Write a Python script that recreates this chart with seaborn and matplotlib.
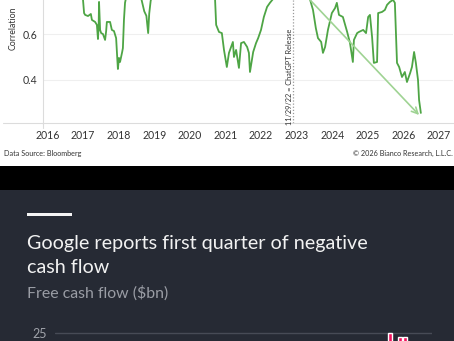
import matplotlib
matplotlib.use("Agg")
import matplotlib.pyplot as plt
import seaborn as sns
from matplotlib.patches import Rectangle
from matplotlib.lines import Line2D

# ---------------- data ----------------
years = [2016.00, 2016.50, 2016.97, 2017.00, 2017.03, 2017.06, 2017.14, 2017.22, 2017.25,
         2017.34, 2017.39, 2017.42, 2017.44, 2017.45, 2017.48, 2017.51, 2017.56, 2017.62,
         2017.65, 2017.67, 2017.76, 2017.81, 2017.87, 2017.93, 2017.96, 2017.98, 2018.01,
         2018.04, 2018.10, 2018.12, 2018.15, 2018.18, 2018.21, 2018.40, 2018.63, 2018.72,
         2018.78, 2018.83, 2018.86, 2018.90, 2018.95, 2019.50, 2020.20, 2020.68, 2020.71,
         2020.74, 2020.82, 2020.90, 2020.96, 2021.04, 2021.10, 2021.21, 2021.24, 2021.30,
         2021.38, 2021.44, 2021.52, 2021.61, 2021.66, 2021.69, 2021.78, 2021.86, 2021.92,
         2022.00, 2022.08, 2022.17, 2022.25, 2022.37, 2022.80, 2023.20, 2023.38, 2023.46,
         2023.54, 2023.60, 2023.69, 2023.74, 2023.80, 2023.88, 2023.99, 2024.08, 2024.13,
         2024.19, 2024.30, 2024.42, 2024.50, 2024.58, 2024.61, 2024.70, 2024.75, 2024.87,
         2024.95, 2025.01, 2025.06, 2025.12, 2025.17, 2025.26, 2025.29, 2025.40, 2025.48,
         2025.54, 2025.62, 2025.71, 2025.76, 2025.82, 2025.88, 2025.96, 2026.04, 2026.10,
         2026.19, 2026.24, 2026.30, 2026.35, 2026.41, 2026.44, 2026.49]
corr = [0.86, 0.83, 0.80, 0.750, 0.692, 0.684, 0.679, 0.688, 0.662,
        0.653, 0.640, 0.578, 0.640, 0.741, 0.618, 0.604, 0.600, 0.574,
        0.613, 0.653, 0.653, 0.618, 0.613, 0.582, 0.499, 0.446, 0.495,
        0.477, 0.521, 0.538, 0.662, 0.737, 0.760, 0.80, 0.76, 0.700,
        0.680, 0.604, 0.690, 0.745, 0.78, 0.84, 0.82, 0.78, 0.750,
        0.640, 0.609, 0.604, 0.530, 0.455, 0.517, 0.565, 0.499, 0.530,
        0.451, 0.560, 0.565, 0.543, 0.517, 0.433, 0.521, 0.560, 0.582,
        0.618, 0.675, 0.719, 0.737, 0.760, 0.82, 0.80, 0.750, 0.706,
        0.626, 0.582, 0.565, 0.517, 0.543, 0.618, 0.692, 0.714, 0.737,
        0.684, 0.675, 0.609, 0.560, 0.477, 0.574, 0.604, 0.609, 0.618,
        0.604, 0.675, 0.684, 0.587, 0.473, 0.477, 0.692, 0.697, 0.706,
        0.728, 0.741, 0.750, 0.737, 0.473, 0.455, 0.411, 0.433, 0.389,
        0.429, 0.455, 0.521, 0.473, 0.398, 0.310, 0.253]
year_ticks = list(range(2016, 2028))
corr_ticks = [0.4, 0.6]
chatgpt_release = 2022.91
trend_start = (2023.38, 0.7495)
trend_end = (2026.44, 0.244)

quarters = ["Q1 2024", "Q2 2024", "Q3 2024", "Q4 2024", "Q1 2025", "Q2 2025", "Q3 2025", "Q4 2025"]
fcf = [16.8, 13.5, 17.6, 24.8, 19.0, 23.8, 23.8, -5.0]
fcf_ticks = [25]

# ---------------- figure ----------------
sns.set_theme(style="white")
plt.rcParams['font.family'] = ['Lato', 'DejaVu Sans']

W, H = 454, 341
fig = plt.figure(figsize=(W / 100, H / 100), dpi=100)
fig.patch.set_facecolor("white")


def fx(px):
    return px / W


def fy(py):
    return 1 - py / H


panel = "#262a34"
fig.patches.append(Rectangle((0, fy(190)), 1, 24 / H, transform=fig.transFigure,
                             facecolor="black", edgecolor="none", zorder=-5))
fig.patches.append(Rectangle((0, 0), 1, fy(190), transform=fig.transFigure,
                             facecolor=panel, edgecolor="none", zorder=-5))

# ---- top chart ----
ax = fig.add_axes([fx(43), fy(123), fx(453) - fx(43), 123 / H])
ax.set_facecolor("white")
sns.lineplot(x=years, y=corr, ax=ax, color="#4ea545", linewidth=1.3)
ax.set_xlim(2015.876, 2027.393)
ax.set_ylim(0.2088, 0.7495)
ax.set_xticks(year_ticks)
ax.set_xticklabels([str(y) for y in year_ticks])
ax.get_xticklabels()[0].set_x(2016.15)
ax.yaxis.grid(True, color="#efefef", lw=0.8)
ax.xaxis.grid(False)
ax.set_yticks(corr_ticks)
ax.set_yticklabels([f"{v:.1f}" for v in corr_ticks])
for s in ["top", "right"]:
    ax.spines[s].set_visible(False)
for s in ["left", "bottom"]:
    ax.spines[s].set_color("#dcdcdc")
    ax.spines[s].set_linewidth(0.8)
ax.tick_params(axis="both", length=0, labelsize=7.6, colors="#333333")
ax.tick_params(axis="x", pad=5)
ax.tick_params(axis="y", pad=4)
ax.set_xlabel("")
ax.set_ylabel("")

ax.axvline(chatgpt_release, color="#9a9a9a", ls=(0, (1, 1.5)), lw=0.9)
ax.text(chatgpt_release - 0.11, 0.411, "11/29/22 = ChatGPT Release", rotation=90,
        ha="center", va="center", fontsize=5.3, color="#333333")
ax.annotate("", xy=trend_end, xytext=trend_start,
            arrowprops=dict(arrowstyle="->", color="#9fd393", lw=1.2,
                            mutation_scale=11, shrinkA=0, shrinkB=0))

fig.add_artist(Line2D([fx(3), fx(43)], [fy(123), fy(123)], transform=fig.transFigure,
                      color="#dcdcdc", lw=0.8))
fig.add_artist(Line2D([fx(43), fx(43)], [fy(123), fy(128)], transform=fig.transFigure,
                      color="#dcdcdc", lw=0.8))

fig.text(fx(13), fy(28), "Correlation", rotation=90, ha="center", va="center",
         fontsize=6.3, color="#333333")
fig.text(fx(4), fy(153), "Data Source: Bloomberg", ha="left", va="center",
         fontsize=5.2, color="#333333")
fig.text(fx(453), fy(153), "\u00a9 2026 Bianco Research, L.L.C.", ha="right", va="center",
         fontsize=5.2, color="#333333")

# ---- bottom (dark) section ----
fig.patches.append(Rectangle((fx(27), fy(216)), fx(45), 3 / H, transform=fig.transFigure,
                             facecolor="#f4f4f4", edgecolor="none"))
fig.text(fx(27), fy(249), "Google reports first quarter of negative", ha="left",
         va="baseline", fontsize=14.2, color="#f2f2f2")
fig.text(fx(27), fy(273), "cash flow", ha="left", va="baseline", fontsize=14.2,
         color="#f2f2f2")
fig.text(fx(27), fy(297.5), "Free cash flow ($bn)", ha="left", va="baseline",
         fontsize=11.4, color="#9a9da5")

ax2 = fig.add_axes([fx(55), fy(472.5), fx(432) - fx(55), 160 / H])
ax2.set_facecolor("none")
sns.barplot(x=quarters, y=fcf, color="#f2125e", saturation=1, width=0.72, ax=ax2)
ax2.axhline(25, color="#474b56", lw=1, zorder=0)
ax2.set_xlim(-64, 11.4)
ax2.set_ylim(-10, 30)
ax2.set_xticks([])
ax2.set_yticks(fcf_ticks)
ax2.set_yticklabels([str(t) for t in fcf_ticks])
ax2.tick_params(axis="y", length=0, pad=5.8, labelsize=9, labelcolor="#a0a3aa")
ax2.set_xlabel("")
ax2.set_ylabel("")
for s in ax2.spines.values():
    s.set_visible(False)

fig.savefig("out.png", dpi=100)
